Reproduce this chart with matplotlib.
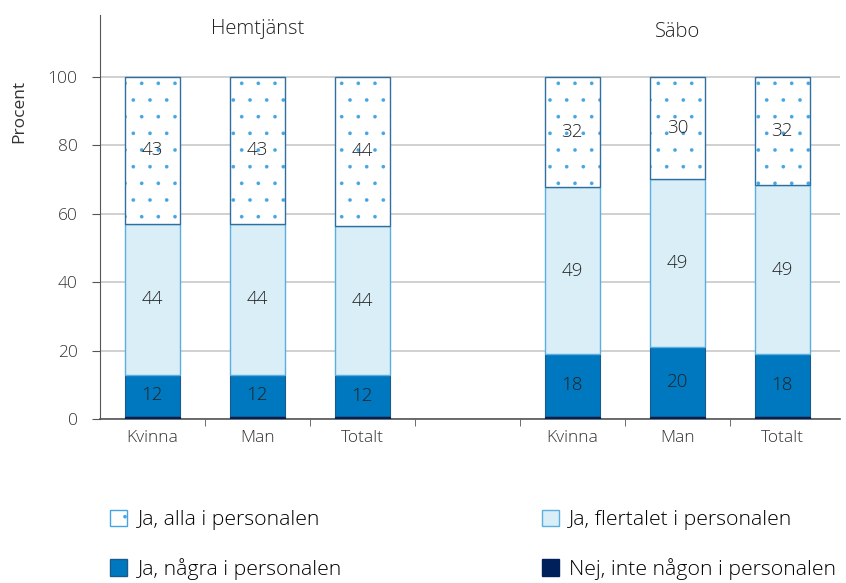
import matplotlib.pyplot as plt
import numpy as np
from matplotlib.patches import Patch

plt.rcParams['font.family'] = ['Open Sans', 'DejaVu Sans']
plt.rcParams['font.weight'] = 'light'
plt.rcParams['hatch.linewidth'] = 0.2

# category slots: Hemtjänst (0-2), empty slot 3, Säbo (4-6)
categories = ['Kvinna', 'Man', 'Totalt', 'Kvinna', 'Man', 'Totalt']
positions = [0, 1, 2, 4, 5, 6]
groups = ['Hemtjänst', 'Säbo']

# percent values, bottom to top
nej = [1.0, 1.0, 0.8, 1.0, 1.0, 0.8]
nagra = [12.0, 12.0, 12.0, 18.0, 20.0, 18.2]
flertalet = [44.0, 44.0, 43.6, 48.8, 49.2, 49.3]
alla = [43.0, 43.0, 43.6, 32.2, 29.8, 31.7]

series_names = ['Ja, alla i personalen', 'Ja, flertalet i personalen',
                'Ja, några i personalen', 'Nej, inte någon i personalen']

c_dot = '#45a4e4'
c_light = '#daeef7'
c_mid = '#0078bf'
c_dark = '#00205b'

fig = plt.figure(figsize=(8.46, 5.83), dpi=100)
ax = fig.add_axes([0.118, 0.281, 0.875, 0.693])

w = 0.53
x = np.array(positions)
b0 = np.zeros(len(x))
ax.bar(x, nej, w, bottom=b0, color=c_dark, edgecolor=c_dark, linewidth=0.8, zorder=3)
b1 = b0 + np.array(nej)
ax.bar(x, nagra, w, bottom=b1, color=c_mid, edgecolor='#1a5a8a', linewidth=0.8, zorder=3)
b2 = b1 + np.array(nagra)
ax.bar(x, flertalet, w, bottom=b2, color=c_light, edgecolor='#5aaee0', linewidth=1.0, zorder=3)
b3 = b2 + np.array(flertalet)
ax.bar(x, alla, w, bottom=b3, color='white', edgecolor=c_dot, hatch='.', linewidth=0, zorder=3)
ax.bar(x, alla, w, bottom=b3, fill=False, edgecolor='#2f6f9f', linewidth=1.0, zorder=4)

# value labels
for vals, bot in [(nagra, b1), (flertalet, b2), (alla, b3)]:
    for xi, v, b in zip(x, vals, bot):
        ax.text(xi, b + v / 2, f'{round(v)}', ha='center', va='center',
                fontsize=13.5, color='#222222', zorder=5)

ax.set_xlim(-0.5, 6.55)
ax.set_ylim(0, 118)
ax.set_yticks([0, 20, 40, 60, 80, 100])
ax.yaxis.grid(True, color='#c8c8c8', linewidth=1.2, zorder=0)
ax.set_axisbelow(True)
ax.set_xticks(positions)
ax.set_xticklabels(categories, fontsize=12.5, color='#333333')
ax.set_xticks(np.arange(0.5, 6, 1), minor=True)
ax.tick_params(axis='x', which='major', length=0, pad=8)
ax.tick_params(axis='x', which='minor', length=5, color='#555555')
ax.tick_params(axis='y', length=6, color='#555555', labelsize=12.5,
               labelcolor='#333333', pad=10)
ax.set_ylabel('Procent', fontsize=12.5, color='#333333')
ax.yaxis.set_label_coords(-0.098, 0.762)
for s in ['top', 'right']:
    ax.spines[s].set_visible(False)
ax.spines['left'].set_color('#555555')
ax.spines['bottom'].set_color('#555555')
ax.spines['bottom'].set_linewidth(1.2)

ax.text(1, 114, groups[0], ha='center', va='center', fontsize=14.5, color='#222222')
ax.text(5, 113, groups[1], ha='center', va='center', fontsize=14.5, color='#222222')

handles = [
    Patch(facecolor='white', edgecolor=c_dot, hatch='.', linewidth=1.0),
    Patch(facecolor=c_light, edgecolor='#5aaee0', linewidth=1.0),
    Patch(facecolor=c_mid, edgecolor='#1a5a8a', linewidth=1.0),
    Patch(facecolor=c_dark, edgecolor=c_dark, linewidth=1.0),
]
# column-wise fill order -> rows: (alla, flertalet), (några, nej)
order = [0, 2, 1, 3]
fig.legend([handles[i] for i in order], [series_names[i] for i in order],
           loc='upper left', bbox_to_anchor=(0.130, 0.126),
           ncol=2, frameon=False, fontsize=15.3, handlelength=0.8, handleheight=0.85,
           handletextpad=0.5, columnspacing=9.4, labelspacing=1.3,
           borderaxespad=0, borderpad=0)

fig.savefig('out.png', dpi=100)
